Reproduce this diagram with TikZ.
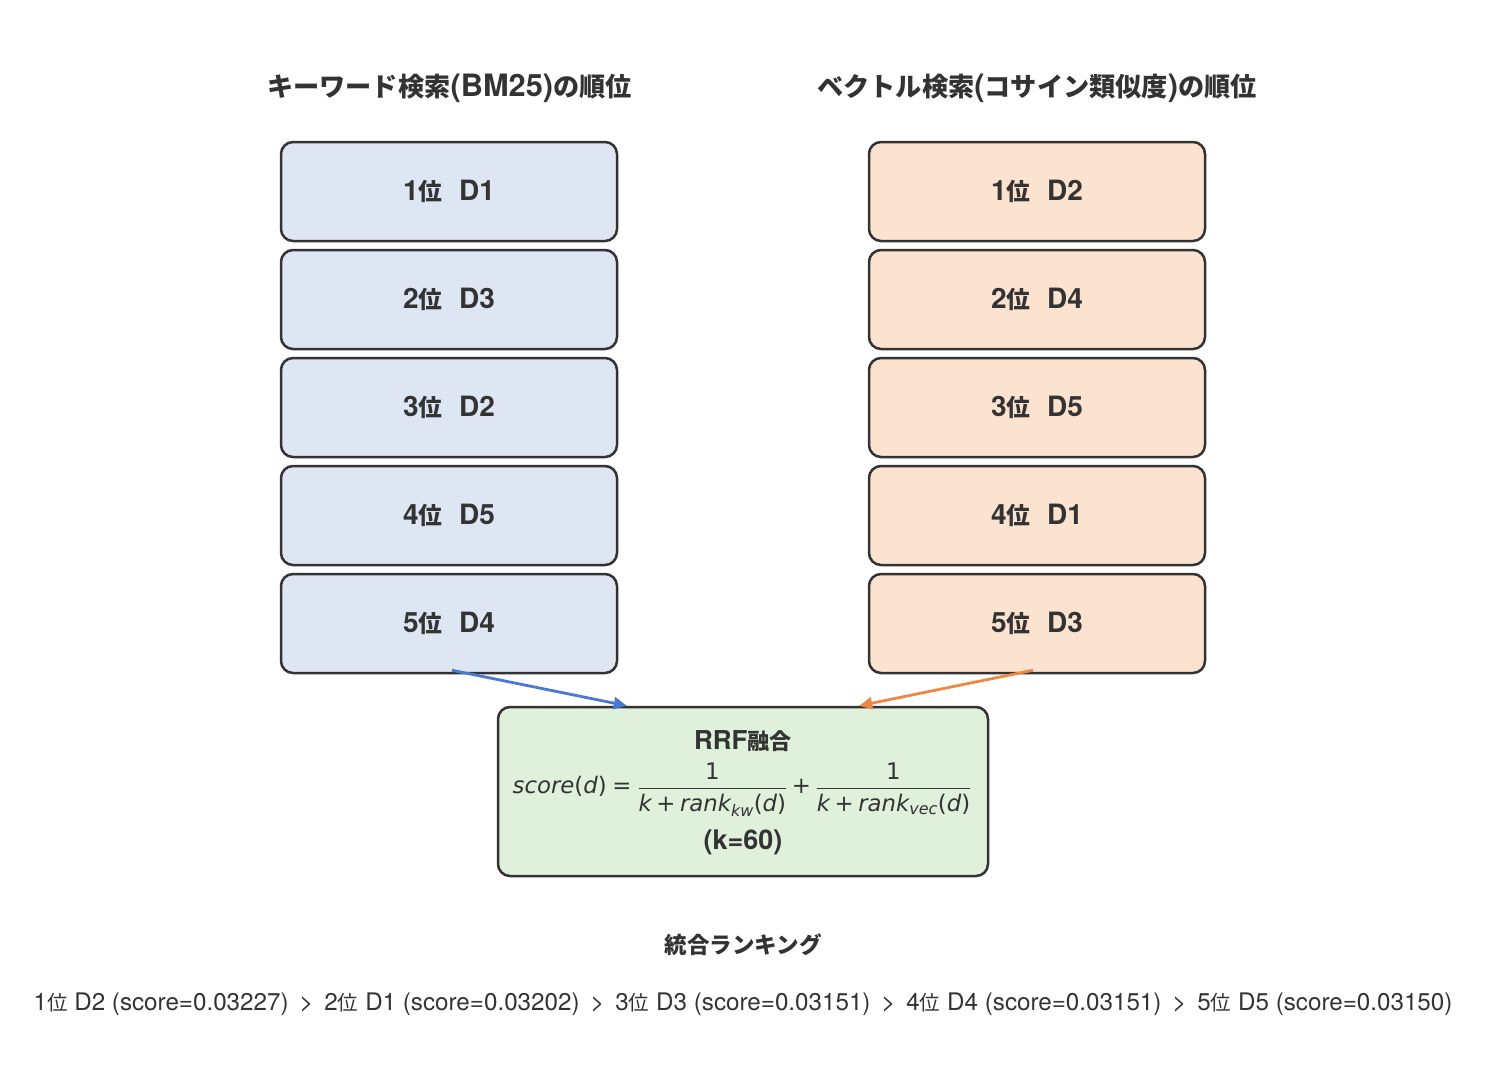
\documentclass[tikz,border=0pt]{standalone}
\usepackage{fontspec}
\usepackage{amsmath}
\setmainfont{TeX Gyre Heros}
\newfontfamily\jp{Noto Sans CJK JP}[Scale=0.85]
\newfontfamily\dv{DejaVu Sans}
\usetikzlibrary{arrows.meta,calc}
\definecolor{txt}{HTML}{333333}
\definecolor{kwfill}{HTML}{DEE6F4}
\definecolor{vecfill}{HTML}{FCE3D0}
\definecolor{rrffill}{HTML}{DFF1DB}
\definecolor{kwarrow}{HTML}{4A78D2}
\definecolor{vecarrow}{HTML}{EE8746}
\newcommand\mi[1]{\text{\dv\itshape #1}}
\newcommand\mr[1]{\text{\dv #1}}
\newcommand\rk[2]{#1{\jp 位}\hspace{0.6em}D#2}
\newcommand\fr[3]{#1{\jp 位} D#2 (score=#3)}
\newcommand\sepr{\hspace{0.45em}>\hspace{0.45em}}
\tikzset{
  rankbox/.style={draw=txt, line width=2.5pt, rounded corners=12pt,
    minimum width=336pt, minimum height=99pt, text=txt,
    font=\fontsize{28}{32}\selectfont\bfseries},
  kwbox/.style={rankbox, fill=kwfill},
  vecbox/.style={rankbox, fill=vecfill},
  coltitle/.style={text=txt, font=\fontsize{30.8}{34}\selectfont\bfseries},
  flowarrow/.style={line width=2.8pt, -{Triangle[length=13pt,width=12pt]}},
}
\begin{document}
\begin{tikzpicture}[x=1pt,y=-1pt]
\useasboundingbox (0,0) rectangle (1486,1084);
\node[coltitle] (tkw) at (449.5,88) {{\jp キーワード検索}(BM25){\jp の順位}};
\node[coltitle] (tvec) at (1037,88) {{\jp ベクトル検索}({\jp コサイン類似度}){\jp の順位}};
\node[kwbox] (l1) at (449,191.5) {\rk{1}{1}};
\node[kwbox] (l2) at (449,299.5) {\rk{2}{3}};
\node[kwbox] (l3) at (449,407.5) {\rk{3}{2}};
\node[kwbox] (l4) at (449,515.5) {\rk{4}{5}};
\node[kwbox] (l5) at (449,623.5) {\rk{5}{4}};
\node[vecbox] (r1) at (1037,191.5) {\rk{1}{2}};
\node[vecbox] (r2) at (1037,299.5) {\rk{2}{4}};
\node[vecbox] (r3) at (1037,407.5) {\rk{3}{5}};
\node[vecbox] (r4) at (1037,515.5) {\rk{4}{1}};
\node[vecbox] (r5) at (1037,623.5) {\rk{5}{3}};
\node[draw=txt, line width=2.5pt, rounded corners=12pt, fill=rrffill,
  minimum width=490pt, minimum height=169pt] (rrf) at (743,791.5) {};
\node[text=txt, font=\fontsize{26}{30}\selectfont\bfseries] (rrft) at (743,741) {RRF{\jp 融合}};
\node[text=txt, font=\fontsize{22.8}{26}\selectfont] (frm) at (742,790)
  {$\mi{score}\mr{(}\mi{d}\mr{)} \mathrel{\mr{=}}
   \dfrac{\mr{1}\rule[-4pt]{0pt}{4pt}}{\rule{0pt}{20pt}\mi{k}\mathbin{\mr{+}}\mi{rank}_{\mi{kw}}\mr{(}\mi{d}\mr{)}}
   \mathbin{\mr{+}}
   \dfrac{\mr{1}\rule[-4pt]{0pt}{4pt}}{\rule{0pt}{20pt}\mi{k}\mathbin{\mr{+}}\mi{rank}_{\mi{vec}}\mr{(}\mi{d}\mr{)}}$};
\node[text=txt, font=\fontsize{27}{30}\selectfont\bfseries] (kval) at (743,842) {(k=60)};
\draw[flowarrow, kwarrow] ($(l5.south)+(3,-4)$) -- ($(rrf.north west)+(130,0)$);
\draw[flowarrow, vecarrow] ($(r5.south)+(-4,-4)$) -- ($(rrf.north east)+(-130,0)$);
\node[text=txt, font=\fontsize{26.5}{30}\selectfont\bfseries] (fin) at (743,945) {\jp 統合ランキング};
\node[text=txt, font=\fontsize{24.2}{28}\selectfont] (rank) at (743,1004)
  {\fr{1}{2}{0.03227}\sepr\fr{2}{1}{0.03202}\sepr\fr{3}{3}{0.03151}\sepr\fr{4}{4}{0.03151}\sepr\fr{5}{5}{0.03150}};
\end{tikzpicture}
\end{document}
